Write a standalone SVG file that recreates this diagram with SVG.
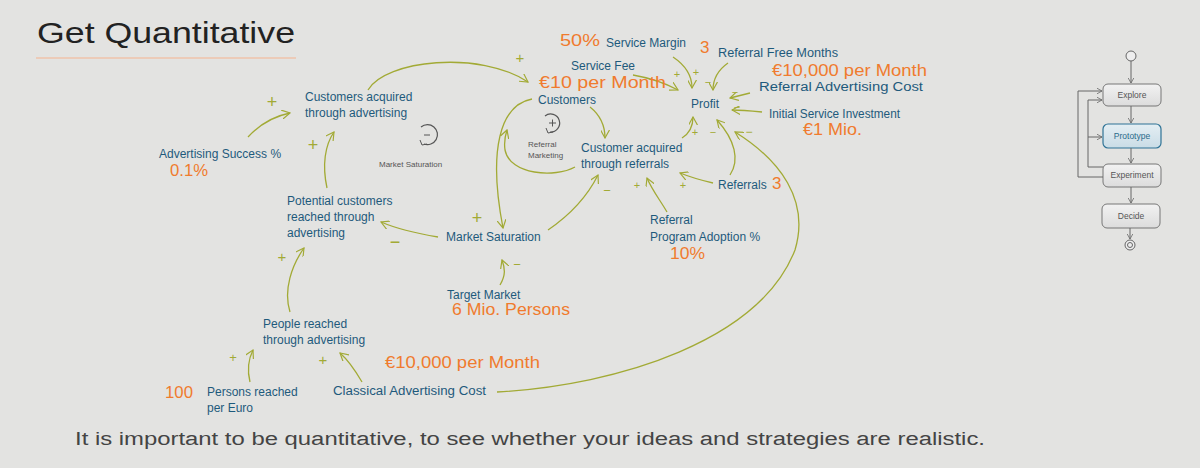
<svg xmlns="http://www.w3.org/2000/svg" width="1200" height="468" viewBox="0 0 1200 468">
<defs>
<marker id="ah" viewBox="0 0 10 10" refX="9" refY="5" markerWidth="9" markerHeight="9" markerUnits="userSpaceOnUse" orient="auto">
<path d="M0,0 L9,5 L0,10" fill="none" stroke="#a2aa35" stroke-width="1.3"/>
</marker>
<marker id="fah" viewBox="0 0 10 10" refX="9" refY="5" markerWidth="6" markerHeight="6" markerUnits="userSpaceOnUse" orient="auto">
<path d="M0,0 L9,5 L0,10" fill="none" stroke="#666" stroke-width="1.3"/>
</marker>
<linearGradient id="box" x1="0" y1="0" x2="0" y2="1">
<stop offset="0" stop-color="#f2f2f2"/><stop offset="1" stop-color="#dcdcdc"/>
</linearGradient>
<linearGradient id="boxhi" x1="0" y1="0" x2="0" y2="1">
<stop offset="0" stop-color="#e4eef3"/><stop offset="1" stop-color="#c9dce6"/>
</linearGradient>
</defs>
<style>
.lbl{font-family:"Liberation Sans",Arial,sans-serif;font-size:12px;fill:#1e5a7c}
.num{font-family:"Liberation Sans",Arial,sans-serif;font-size:17px;fill:#f07b2e}
.sm{font-family:"Liberation Sans",Arial,sans-serif;font-size:8px;fill:#555}
.sg{font-family:"Liberation Sans",Arial,sans-serif;fill:#a2aa35;text-anchor:middle}
.c{fill:none;stroke:#a2aa35;stroke-width:1.3;marker-end:url(#ah)}
.fb{fill:url(#box);stroke:#777;stroke-width:1}
.ft{font-family:"Liberation Sans",Arial,sans-serif;font-size:8.5px;fill:#555;text-anchor:middle}
.fl{fill:none;stroke:#666;stroke-width:1;marker-end:url(#fah)}
</style>
<rect width="1200" height="468" fill="#e3e3e1"/>

<g id="title">
<text x="37" y="43" font-family="Liberation Sans,Arial,sans-serif" font-size="29" fill="#222" textLength="258" lengthAdjust="spacingAndGlyphs">Get Quantitative</text>
<line x1="36" y1="58" x2="296" y2="58" stroke="#efc3aa" stroke-width="1.5"/>
</g>

<g id="connectors">
<path class="c" d="M368,90 C385,60 480,50 528,82"/>
<path class="c" d="M248,137 C262,122 275,116 290,113"/>
<path class="c" d="M327,188 C322,165 325,145 334,132"/>
<path class="c" d="M438,237 C420,234 395,228 381,222"/>
<path class="c" d="M532,99 C500,105 488,150 503,228"/>
<path class="c" d="M548,230 C570,215 588,195 598,175"/>
<path class="c" d="M500,285 C506,275 505,268 502,260"/>
<path class="c" d="M290,312 C283,290 292,265 304,248"/>
<path class="c" d="M250,382 C247,370 248,360 253,350"/>
<path class="c" d="M362,382 C355,370 348,360 340,353"/>
<path class="c" d="M497,392 C620,385 760,340 795,250 C810,200 780,160 735,132"/>
<path class="c" d="M590,107 C600,115 605,125 605,138"/>
<path class="c" d="M575,167 C555,178 510,175 505,150 C504,143 505,136 507,130"/>
<path class="c" d="M682,138 C690,133 693,125 693,117"/>
<path class="c" d="M673,57 C685,65 692,75 692,88"/>
<path class="c" d="M728,63 C718,70 713,80 713,90"/>
<path class="c" d="M633,75 C650,78 665,83 678,90"/>
<path class="c" d="M750,93 L730,98"/>
<path class="c" d="M762,112 C752,111 742,110 732,110"/>
<path class="c" d="M730,175 C740,160 735,140 717,120"/>
<path class="c" d="M713,183 C700,180 690,177 680,173"/>
<path class="c" d="M667,212 C660,200 652,190 647,178"/>
</g>

<g id="signs">
<text class="sg" x="272" y="108" font-size="18">+</text>
<text class="sg" x="313" y="151" font-size="18">+</text>
<text class="sg" x="520" y="63" font-size="15">+</text>
<text class="sg" x="395" y="248" font-size="18">−</text>
<text class="sg" x="477" y="224" font-size="18">+</text>
<text class="sg" x="607" y="195" font-size="13">−</text>
<text class="sg" x="517" y="269" font-size="13">−</text>
<text class="sg" x="282" y="262" font-size="15">+</text>
<text class="sg" x="233" y="362" font-size="13">+</text>
<text class="sg" x="323" y="365" font-size="15">+</text>
<text class="sg" x="749" y="136" font-size="12">−</text>
<text class="sg" x="695" y="136" font-size="11">+</text>
<text class="sg" x="696" y="76" font-size="11">+</text>
<text class="sg" x="708" y="86" font-size="11">−</text>
<text class="sg" x="677" y="78" font-size="11">+</text>
<text class="sg" x="735" y="96" font-size="11">−</text>
<text class="sg" x="737" y="111" font-size="11">−</text>
<text class="sg" x="713" y="136" font-size="11">−</text>
<text class="sg" x="683" y="189" font-size="11">+</text>
<text class="sg" x="637" y="189" font-size="11">+</text>
</g>

<g id="loop-market-saturation">
<path d="M421,127 A10,10 0 1 1 424,144" fill="none" stroke="#555" stroke-width="1.2"/>
<path d="M420,140 L422,145 L427,144" fill="none" stroke="#555" stroke-width="1"/>
<line x1="424" y1="135" x2="430" y2="135" stroke="#555" stroke-width="1"/>
<text class="sm" x="379" y="167">Market Saturation</text>
</g>

<g id="loop-referral-marketing">
<path d="M545,116 A9,9 0 1 1 550,132" fill="none" stroke="#555" stroke-width="1.2"/>
<path d="M546,128 L548,133 L553,132" fill="none" stroke="#555" stroke-width="1"/>
<line x1="549" y1="123" x2="556" y2="123" stroke="#555" stroke-width="1"/>
<line x1="552.5" y1="119.5" x2="552.5" y2="126.5" stroke="#555" stroke-width="1"/>
<text class="sm" x="528" y="147">Referral</text>
<text class="sm" x="528" y="158">Marketing</text>
</g>

<g id="n-customers-adv"><text class="lbl" x="305" y="101">Customers acquired</text><text class="lbl" x="305" y="117">through advertising</text></g>
<g id="n-adv-success"><text class="lbl" x="159" y="158">Advertising Success %</text><text class="num" x="170" y="176" textLength="38" lengthAdjust="spacingAndGlyphs">0.1%</text></g>
<g id="n-potential"><text class="lbl" x="287" y="205">Potential customers</text><text class="lbl" x="287" y="221">reached through</text><text class="lbl" x="287" y="237">advertising</text></g>
<g id="n-market-sat"><text class="lbl" x="446" y="241">Market Saturation</text></g>
<g id="n-target"><text class="lbl" x="447" y="299">Target Market</text><text class="num" x="452" y="315" textLength="118" lengthAdjust="spacingAndGlyphs">6 Mio. Persons</text></g>
<g id="n-people"><text class="lbl" x="263" y="328">People reached</text><text class="lbl" x="263" y="344">through advertising</text></g>
<g id="n-classical"><text class="num" x="385" y="368" textLength="155" lengthAdjust="spacingAndGlyphs">€10,000 per Month</text><text class="lbl" x="333" y="395" textLength="153" lengthAdjust="spacingAndGlyphs">Classical Advertising Cost</text></g>
<g id="n-persons"><text class="num" x="165" y="398" textLength="28" lengthAdjust="spacingAndGlyphs">100</text><text class="lbl" x="207" y="396">Persons reached</text><text class="lbl" x="207" y="412">per Euro</text></g>

<g id="n-service-margin"><text class="num" x="560" y="46" textLength="40" lengthAdjust="spacingAndGlyphs">50%</text><text class="lbl" x="606" y="47">Service Margin</text></g>
<g id="n-free-months"><text class="num" x="700" y="53">3</text><text class="lbl" x="718" y="57" textLength="120" lengthAdjust="spacingAndGlyphs">Referral Free Months</text></g>
<g id="n-ref-adv-cost"><text class="num" x="772" y="76" textLength="155" lengthAdjust="spacingAndGlyphs">€10,000 per Month</text><text class="lbl" x="759" y="91" textLength="164" lengthAdjust="spacingAndGlyphs">Referral Advertising Cost</text></g>
<g id="n-service-fee"><text class="lbl" x="571" y="70">Service Fee</text><text class="num" x="539" y="88" font-size="16" textLength="127" lengthAdjust="spacingAndGlyphs">€10 per Month</text></g>
<g id="n-customers"><text class="lbl" x="538" y="104">Customers</text></g>
<g id="n-profit"><text class="lbl" x="691" y="108">Profit</text></g>
<g id="n-investment"><text class="lbl" x="769" y="118" textLength="131" lengthAdjust="spacingAndGlyphs">Initial Service Investment</text><text class="num" x="803" y="135" textLength="59" lengthAdjust="spacingAndGlyphs">€1 Mio.</text></g>
<g id="n-customer-ref"><text class="lbl" x="581" y="152">Customer acquired</text><text class="lbl" x="581" y="168">through referrals</text></g>
<g id="n-referrals"><text class="lbl" x="718" y="189">Referrals</text><text class="num" x="772" y="189">3</text></g>
<g id="n-adoption"><text class="lbl" x="650" y="224">Referral</text><text class="lbl" x="650" y="241">Program Adoption %</text><text class="num" x="670" y="259" textLength="35" lengthAdjust="spacingAndGlyphs">10%</text></g>

<g id="process">
<circle cx="1131" cy="56" r="5" fill="#eee" stroke="#666" stroke-width="1"/>
<path class="fl" d="M1131,61 V83"/>
<rect class="fb" x="1103" y="84" width="58" height="22" rx="5"/>
<text class="ft" x="1132" y="98">Explore</text>
<path class="fl" d="M1131,106 V123"/>
<rect x="1103" y="124" width="58" height="24" rx="5" fill="url(#boxhi)" stroke="#2f7396" stroke-width="1.2"/>
<text class="ft" x="1132" y="139" style="fill:#2a6a8a">Prototype</text>
<path class="fl" d="M1131,148 V163"/>
<rect class="fb" x="1103" y="164" width="58" height="23" rx="5"/>
<text class="ft" x="1132" y="178">Experiment</text>
<path class="fl" d="M1131,187 V203"/>
<rect class="fb" x="1102" y="204" width="58" height="24" rx="5"/>
<text class="ft" x="1131" y="219">Decide</text>
<path class="fl" d="M1130,228 V239"/>
<circle cx="1130" cy="245" r="5" fill="#eee" stroke="#666" stroke-width="1"/>
<circle cx="1130" cy="245" r="2.5" fill="none" stroke="#666" stroke-width="1"/>
<path class="fl" d="M1103,177 H1078 V91 H1102"/>
<path class="fl" d="M1103,167 H1088 V100 H1102"/>
<path class="fl" d="M1088,137 H1102"/>
</g>

<g id="caption">
<text x="75" y="445" font-family="Liberation Sans,Arial,sans-serif" font-size="18" fill="#444" textLength="910" lengthAdjust="spacingAndGlyphs">It is important to be quantitative, to see whether your ideas and strategies are realistic.</text>
</g>
</svg>
